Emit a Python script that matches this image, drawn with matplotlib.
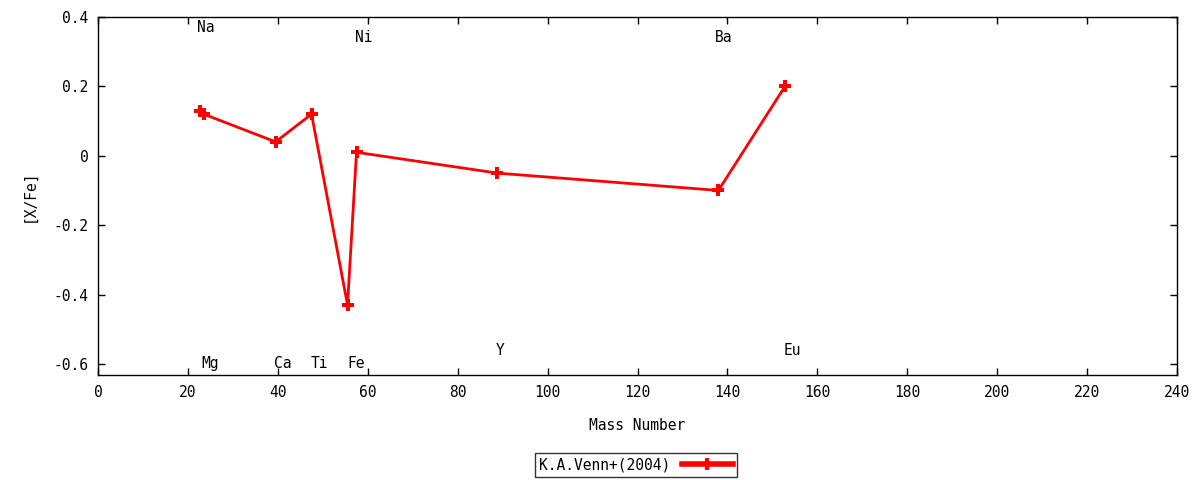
import matplotlib
matplotlib.use("Agg")
import matplotlib.pyplot as plt
from matplotlib.lines import Line2D

elements = ["Na", "Mg", "Ca", "Ti", "Fe", "Ni", "Y", "Ba", "Eu"]
mass = [22.7, 23.5, 39.5, 47.5, 55.5, 57.5, 88.8, 138.0, 152.8]
xfe = [0.13, 0.12, 0.04, 0.12, -0.43, 0.01, -0.05, -0.10, 0.20]
label_x = [22.0, 23.1, 39.1, 47.4, 55.4, 57.2, 88.5, 137.2, 152.4]
label_y = [0.37, -0.60, -0.60, -0.60, -0.60, 0.34, -0.56, 0.34, -0.56]
series_name = "K.A.Venn+(2004)"
xticks = list(range(0, 241, 20))
yticks = [-0.6, -0.4, -0.2, 0, 0.2, 0.4]
ytick_labels = ["-0.6", "-0.4", "-0.2", "0", "0.2", "0.4"]

plt.rcParams['font.family'] = ['DejaVu Sans Mono']
fig = plt.figure(figsize=(12, 4.8), dpi=100)
ax = fig.add_axes([98/1200, 1-375/480, (1177-98)/1200, (375-17)/480])

ax.plot(mass, xfe, color='red', lw=2, marker='P', markersize=9,
        markeredgewidth=0, label=series_name, zorder=3)

for el, lx, ly in zip(elements, label_x, label_y):
    ax.text(lx, ly, el, fontsize=10.5, ha='left', va='center')

ax.set_xlim(0, 240)
ax.set_ylim(-0.632, 0.4)
ax.set_xticks(xticks)
ax.set_yticks(yticks)
ax.set_yticklabels(ytick_labels)
ax.tick_params(direction='in', length=5, width=1, top=True, right=True,
               labelsize=10.5, pad=7)
for s in ax.spines.values():
    s.set_linewidth(1)
ax.set_xlabel("Mass Number", fontsize=10.5, labelpad=13)
ax.set_ylabel("[X/Fe]", fontsize=10.5, labelpad=12)

handle = Line2D([0], [0], color='red', lw=4, marker='|', markersize=9,
                markeredgewidth=3)
leg = fig.legend([handle], [series_name], loc='center', bbox_to_anchor=(636/1200, 1-465/480),
                 frameon=True, fancybox=False, edgecolor='black', fontsize=10.5,
                 markerfirst=False, handlelength=3.5, borderpad=0.3, numpoints=1)
leg.get_frame().set_linewidth(1)

fig.savefig("out.png", dpi=100)
